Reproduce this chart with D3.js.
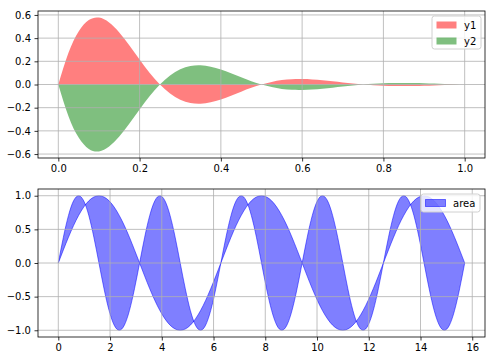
<!DOCTYPE html>
<html>
<head>
<meta charset="utf-8">
<script src="https://cdn.jsdelivr.net/npm/d3@7"></script>
<style>
  body { margin: 0; background: #fff; }
  svg { display: block; }
  .tick text { font-family: "DejaVu Sans", sans-serif; font-size: 10px; fill: #000; }
</style>
</head>
<body>
<div id="chart"></div>
<script>
// top panel: damped oscillation and its mirror
const topX = [0, 0.025, 0.05, 0.075, 0.1, 0.125, 0.15, 0.175, 0.2, 0.225, 0.25, 0.275, 0.3, 0.325, 0.35, 0.375, 0.4, 0.425, 0.45, 0.475,
  0.5, 0.525, 0.55, 0.575, 0.6, 0.625, 0.65, 0.675, 0.7, 0.725, 0.75, 0.775, 0.8, 0.825, 0.85, 0.875, 0.9, 0.925, 0.95, 0.975, 1.0]
const y1 = [0, 0.273, 0.458, 0.556, 0.577, 0.535, 0.449, 0.337, 0.216, 0.100, 0, -0.078, -0.131, -0.159, -0.165, -0.153, -0.129, -0.097, -0.062, -0.029,
  0, 0.022, 0.038, 0.046, 0.047, 0.044, 0.037, 0.028, 0.018, 0.008, 0, -0.006, -0.011, -0.013, -0.014, -0.013, -0.011, -0.008, -0.005, -0.002, 0]
const y2 = [0, -0.273, -0.458, -0.556, -0.577, -0.535, -0.449, -0.337, -0.216, -0.100, 0, 0.078, 0.131, 0.159, 0.165, 0.153, 0.129, 0.097, 0.062, 0.029,
  0, -0.022, -0.038, -0.046, -0.047, -0.044, -0.037, -0.028, -0.018, -0.008, 0, 0.006, 0.011, 0.013, 0.014, 0.013, 0.011, 0.008, 0.005, 0.002, 0]

// bottom panel: area between two waves
const botX = [0, 0.196, 0.393, 0.589, 0.785, 0.982, 1.178, 1.374, 1.571, 1.767, 1.963, 2.160, 2.356, 2.553, 2.749, 2.945,
  3.142, 3.338, 3.534, 3.731, 3.927, 4.123, 4.320, 4.516, 4.712, 4.909, 5.105, 5.301, 5.498, 5.694, 5.890, 6.087,
  6.283, 6.480, 6.676, 6.872, 7.069, 7.265, 7.461, 7.658, 7.854, 8.050, 8.247, 8.443, 8.639, 8.836, 9.032, 9.228,
  9.425, 9.621, 9.817, 10.014, 10.210, 10.407, 10.603, 10.799, 10.996, 11.192, 11.388, 11.585, 11.781, 11.977, 12.174, 12.370,
  12.566, 12.763, 12.959, 13.155, 13.352, 13.548, 13.744, 13.941, 14.137, 14.334, 14.530, 14.726, 14.923, 15.119, 15.315, 15.512, 15.708]
const waveA = [0, 0.195, 0.383, 0.556, 0.707, 0.831, 0.924, 0.981, 1, 0.981, 0.924, 0.831, 0.707, 0.556, 0.383, 0.195,
  0, -0.195, -0.383, -0.556, -0.707, -0.831, -0.924, -0.981, -1, -0.981, -0.924, -0.831, -0.707, -0.556, -0.383, -0.195,
  0, 0.195, 0.383, 0.556, 0.707, 0.831, 0.924, 0.981, 1, 0.981, 0.924, 0.831, 0.707, 0.556, 0.383, 0.195,
  0, -0.195, -0.383, -0.556, -0.707, -0.831, -0.924, -0.981, -1, -0.981, -0.924, -0.831, -0.707, -0.556, -0.383, -0.195,
  0, 0.195, 0.383, 0.556, 0.707, 0.831, 0.924, 0.981, 1, 0.981, 0.924, 0.831, 0.707, 0.556, 0.383, 0.195, 0]
const waveB = [0, 0.383, 0.707, 0.924, 1, 0.924, 0.707, 0.383, 0, -0.383, -0.707, -0.924, -1, -0.924, -0.707, -0.383,
  0, 0.383, 0.707, 0.924, 1, 0.924, 0.707, 0.383, 0, -0.383, -0.707, -0.924, -1, -0.924, -0.707, -0.383,
  0, 0.383, 0.707, 0.924, 1, 0.924, 0.707, 0.383, 0, -0.383, -0.707, -0.924, -1, -0.924, -0.707, -0.383,
  0, 0.383, 0.707, 0.924, 1, 0.924, 0.707, 0.383, 0, -0.383, -0.707, -0.924, -1, -0.924, -0.707, -0.383,
  0, 0.383, 0.707, 0.924, 1, 0.924, 0.707, 0.383, 0, -0.383, -0.707, -0.924, -1, -0.924, -0.707, -0.383, 0]

const topTicksX = [0, 0.2, 0.4, 0.6, 0.8, 1.0]
const topTicksY = [-0.6, -0.4, -0.2, 0, 0.2, 0.4, 0.6]
const botTicksX = [0, 2, 4, 6, 8, 10, 12, 14, 16]
const botTicksY = [-1, -0.5, 0, 0.5, 1]

const width = 495, height = 361
const fmtMinus = f => v => f(v).replace("-", "\u2212")

const svg = d3.select("#chart").append("svg")
  .attr("width", width)
  .attr("height", height)

// draws one panel frame: grid, axes, spines
function panel(box, x, y, ticksX, ticksY, fx, fy) {
  const g = svg.append("g")
  const marks = g.append("g")
  const grid = g.append("g")
  grid.selectAll("line.gx").data(ticksX).join("line")
    .attr("x1", d => x(d)).attr("x2", d => x(d))
    .attr("y1", box.top).attr("y2", box.bottom)
    .attr("stroke", "#b0b0b0").attr("stroke-width", 0.8)
  grid.selectAll("line.gy").data(ticksY).join("line")
    .attr("y1", d => y(d)).attr("y2", d => y(d))
    .attr("x1", box.left).attr("x2", box.right)
    .attr("stroke", "#b0b0b0").attr("stroke-width", 0.8)

  g.append("g")
    .attr("transform", `translate(0,${box.bottom})`)
    .call(d3.axisBottom(x).tickValues(ticksX).tickSize(3.5).tickPadding(3.5).tickFormat(fmtMinus(fx)))
    .call(a => a.select(".domain").remove())
  g.append("g")
    .attr("transform", `translate(${box.left},0)`)
    .call(d3.axisLeft(y).tickValues(ticksY).tickSize(3.5).tickPadding(3.5).tickFormat(fmtMinus(fy)))
    .call(a => a.select(".domain").remove())
  g.selectAll(".tick line").attr("stroke", "#000").attr("stroke-width", 0.8)

  g.append("rect")
    .attr("x", box.left).attr("y", box.top)
    .attr("width", box.right - box.left).attr("height", box.bottom - box.top)
    .attr("fill", "none").attr("stroke", "#000").attr("stroke-width", 0.8)
  return marks
}

// legend box with patch entries
function legend(x0, y0, w, h, entries) {
  const g = svg.append("g")
  g.append("rect")
    .attr("x", x0).attr("y", y0).attr("width", w).attr("height", h)
    .attr("rx", 2.5)
    .attr("fill", "#fff").attr("fill-opacity", 0.8)
    .attr("stroke", "#d0d0d0")
  entries.forEach((e, i) => {
    const cy = y0 + 9 + i * 16
    g.append("rect")
      .attr("x", x0 + 4.5).attr("y", cy - 3.5).attr("width", 20).attr("height", 7)
      .attr("fill", e.color).attr("fill-opacity", 0.5)
      .attr("stroke", e.edge ? e.color : "none").attr("stroke-opacity", 0.5)
    g.append("text")
      .attr("x", x0 + 32).attr("y", cy + 3.5)
      .style("font-family", "DejaVu Sans")
      .style("font-size", "10px")
      .text(e.label)
  })
}

// ---- top panel
const boxT = { left: 38, right: 485, top: 11, bottom: 158 }
const xT = d3.scaleLinear().domain([-0.05, 1.05]).range([boxT.left, boxT.right])
const yT = d3.scaleLinear().domain([-0.634, 0.634]).range([boxT.bottom, boxT.top])
const topData = topX.map((x, i) => ({ x, a: y1[i], b: y2[i] }))
const marksT = panel(boxT, xT, yT, topTicksX, topTicksY, d3.format(".1f"), d3.format(".1f"))

marksT.append("path")
  .datum(topData)
  .attr("d", d3.area().curve(d3.curveNatural).x(d => xT(d.x)).y0(yT(0)).y1(d => yT(d.a)))
  .attr("fill", "#ff0000").attr("fill-opacity", 0.5)
marksT.append("path")
  .datum(topData)
  .attr("d", d3.area().curve(d3.curveNatural).x(d => xT(d.x)).y0(yT(0)).y1(d => yT(d.b)))
  .attr("fill", "#008000").attr("fill-opacity", 0.5)

legend(432, 16, 49, 33, [{ label: "y1", color: "#ff0000" }, { label: "y2", color: "#008000" }])

// ---- bottom panel
const boxB = { left: 38, right: 485, top: 189, bottom: 337 }
const xB = d3.scaleLinear().domain([-0.785, 16.493]).range([boxB.left, boxB.right])
const yB = d3.scaleLinear().domain([-1.1, 1.1]).range([boxB.bottom, boxB.top])
const botData = botX.map((x, i) => ({ x, a: waveA[i], b: waveB[i] }))
const marksB = panel(boxB, xB, yB, botTicksX, botTicksY, d3.format("d"), d3.format(".1f"))

marksB.append("path")
  .datum(botData)
  .attr("d", d3.area().curve(d3.curveNatural).x(d => xB(d.x)).y0(d => yB(d.a)).y1(d => yB(d.b)))
  .attr("fill", "#0000ff").attr("fill-opacity", 0.5)
  .attr("stroke", "#0000ff").attr("stroke-opacity", 0.5).attr("stroke-width", 1)

legend(421, 194, 59, 18, [{ label: "area", color: "#0000ff", edge: true }])
</script>
</body>
</html>
